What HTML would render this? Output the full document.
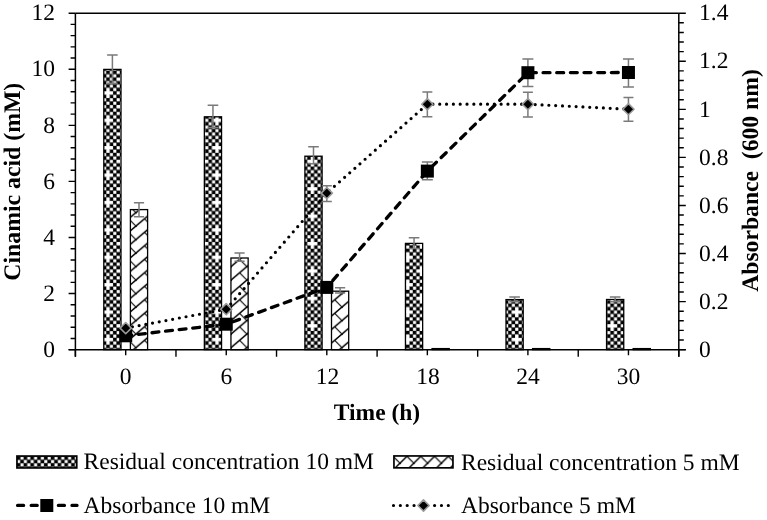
<!DOCTYPE html><html><head><meta charset="utf-8"><style>html,body{margin:0;padding:0;background:#fff;}svg{display:block;will-change:transform;}text{font-family:"Liberation Serif",serif;text-rendering:geometricPrecision;}</style></head><body>
<svg width="767" height="520" viewBox="0 0 767 520">
<defs>
<pattern id="chk" patternUnits="userSpaceOnUse" width="27.250" height="27.400" x="99.484" y="84.388"><rect width="27.250" height="27.400" fill="#000"/><rect x="3.56" y="0.15" width="3.11" height="3.12" fill="#fff"/><rect x="10.37" y="0.15" width="3.11" height="3.12" fill="#fff"/><rect x="17.18" y="0.15" width="3.11" height="3.12" fill="#fff"/><rect x="23.99" y="0.15" width="3.11" height="3.12" fill="#fff"/><rect x="0.15" y="3.57" width="3.11" height="3.12" fill="#fff"/><rect x="6.96" y="3.57" width="3.11" height="3.12" fill="#fff"/><rect x="13.78" y="3.57" width="3.11" height="3.12" fill="#fff"/><rect x="20.59" y="3.57" width="3.11" height="3.12" fill="#fff"/><rect x="3.56" y="7.00" width="3.11" height="3.12" fill="#fff"/><rect x="10.37" y="7.00" width="3.11" height="3.12" fill="#fff"/><rect x="17.18" y="7.00" width="3.11" height="3.12" fill="#fff"/><rect x="23.99" y="7.00" width="3.11" height="3.12" fill="#fff"/><rect x="0.15" y="10.42" width="3.11" height="3.12" fill="#fff"/><rect x="6.96" y="10.42" width="3.11" height="3.12" fill="#fff"/><rect x="13.78" y="10.42" width="3.11" height="3.12" fill="#fff"/><rect x="20.59" y="10.42" width="3.11" height="3.12" fill="#fff"/><rect x="3.56" y="13.85" width="3.11" height="3.12" fill="#fff"/><rect x="10.37" y="13.85" width="3.11" height="3.12" fill="#fff"/><rect x="17.18" y="13.85" width="3.11" height="3.12" fill="#fff"/><rect x="23.99" y="13.85" width="3.11" height="3.12" fill="#fff"/><rect x="0.15" y="17.27" width="3.11" height="3.12" fill="#fff"/><rect x="6.96" y="17.27" width="3.11" height="3.12" fill="#fff"/><rect x="13.78" y="17.27" width="3.11" height="3.12" fill="#fff"/><rect x="20.59" y="17.27" width="3.11" height="3.12" fill="#fff"/><rect x="3.56" y="20.70" width="3.11" height="3.12" fill="#fff"/><rect x="10.37" y="20.70" width="3.11" height="3.12" fill="#fff"/><rect x="17.18" y="20.70" width="3.11" height="3.12" fill="#fff"/><rect x="23.99" y="20.70" width="3.11" height="3.12" fill="#fff"/><rect x="0.15" y="24.12" width="3.11" height="3.12" fill="#fff"/><rect x="6.96" y="24.12" width="3.11" height="3.12" fill="#fff"/><rect x="13.78" y="24.12" width="3.11" height="3.12" fill="#fff"/><rect x="20.59" y="24.12" width="3.11" height="3.12" fill="#fff"/><rect x="3.56" y="7.00" width="9.92" height="3.12" fill="#fff"/><rect x="6.96" y="3.57" width="3.11" height="9.97" fill="#fff"/><rect x="17.18" y="20.70" width="9.92" height="3.12" fill="#fff"/><rect x="20.59" y="17.27" width="3.11" height="9.97" fill="#fff"/></pattern>
<pattern id="chkL" patternUnits="userSpaceOnUse" width="27.200" height="27.200" x="16.900" y="456.400"><rect width="27.200" height="27.200" fill="#000"/><rect x="3.55" y="0.15" width="3.10" height="3.10" fill="#fff"/><rect x="10.35" y="0.15" width="3.10" height="3.10" fill="#fff"/><rect x="17.15" y="0.15" width="3.10" height="3.10" fill="#fff"/><rect x="23.95" y="0.15" width="3.10" height="3.10" fill="#fff"/><rect x="0.15" y="3.55" width="3.10" height="3.10" fill="#fff"/><rect x="6.95" y="3.55" width="3.10" height="3.10" fill="#fff"/><rect x="13.75" y="3.55" width="3.10" height="3.10" fill="#fff"/><rect x="20.55" y="3.55" width="3.10" height="3.10" fill="#fff"/><rect x="3.55" y="6.95" width="3.10" height="3.10" fill="#fff"/><rect x="10.35" y="6.95" width="3.10" height="3.10" fill="#fff"/><rect x="17.15" y="6.95" width="3.10" height="3.10" fill="#fff"/><rect x="23.95" y="6.95" width="3.10" height="3.10" fill="#fff"/><rect x="0.15" y="10.35" width="3.10" height="3.10" fill="#fff"/><rect x="6.95" y="10.35" width="3.10" height="3.10" fill="#fff"/><rect x="13.75" y="10.35" width="3.10" height="3.10" fill="#fff"/><rect x="20.55" y="10.35" width="3.10" height="3.10" fill="#fff"/><rect x="3.55" y="13.75" width="3.10" height="3.10" fill="#fff"/><rect x="10.35" y="13.75" width="3.10" height="3.10" fill="#fff"/><rect x="17.15" y="13.75" width="3.10" height="3.10" fill="#fff"/><rect x="23.95" y="13.75" width="3.10" height="3.10" fill="#fff"/><rect x="0.15" y="17.15" width="3.10" height="3.10" fill="#fff"/><rect x="6.95" y="17.15" width="3.10" height="3.10" fill="#fff"/><rect x="13.75" y="17.15" width="3.10" height="3.10" fill="#fff"/><rect x="20.55" y="17.15" width="3.10" height="3.10" fill="#fff"/><rect x="3.55" y="20.55" width="3.10" height="3.10" fill="#fff"/><rect x="10.35" y="20.55" width="3.10" height="3.10" fill="#fff"/><rect x="17.15" y="20.55" width="3.10" height="3.10" fill="#fff"/><rect x="23.95" y="20.55" width="3.10" height="3.10" fill="#fff"/><rect x="0.15" y="23.95" width="3.10" height="3.10" fill="#fff"/><rect x="6.95" y="23.95" width="3.10" height="3.10" fill="#fff"/><rect x="13.75" y="23.95" width="3.10" height="3.10" fill="#fff"/><rect x="20.55" y="23.95" width="3.10" height="3.10" fill="#fff"/></pattern>
<pattern id="brk" patternUnits="userSpaceOnUse" width="15.85" height="13.5" x="135.900" y="293.600"><rect width="15.85" height="13.5" fill="#fff"/><path d="M-1.585 14.850 L17.435 -1.350" stroke="#000" stroke-width="1.5"/><path d="M8.560 6.210 L16.850 14.500" stroke="#000" stroke-width="1.1"/><path d="M-1 -1 L0.8 0.8" stroke="#000" stroke-width="1.1"/></pattern>
<pattern id="brkL" patternUnits="userSpaceOnUse" width="13.8" height="13.8" x="400.000" y="463.200"><rect width="13.8" height="13.8" fill="#fff"/><path d="M-1.380 15.180 L15.180 -1.380" stroke="#000" stroke-width="1.5"/><path d="M6.900 6.900 L14.800 14.800" stroke="#000" stroke-width="1.1"/><path d="M-1 -1 L0.8 0.8" stroke="#000" stroke-width="1.1"/></pattern>
</defs>
<rect width="767" height="520" fill="#fff"/>
<rect x="103.80" y="69.40" width="17.20" height="280.25" fill="url(#chk)" stroke="#000" stroke-width="1.3"/>
<rect x="130.40" y="209.60" width="17.20" height="140.05" fill="url(#brk)" stroke="#000" stroke-width="1.3"/>
<rect x="204.35" y="116.80" width="17.20" height="232.85" fill="url(#chk)" stroke="#000" stroke-width="1.3"/>
<rect x="230.95" y="258.00" width="17.20" height="91.65" fill="url(#brk)" stroke="#000" stroke-width="1.3"/>
<rect x="304.90" y="156.20" width="17.20" height="193.45" fill="url(#chk)" stroke="#000" stroke-width="1.3"/>
<rect x="331.50" y="291.20" width="17.20" height="58.45" fill="url(#brk)" stroke="#000" stroke-width="1.3"/>
<rect x="405.45" y="243.40" width="17.20" height="106.25" fill="url(#chk)" stroke="#000" stroke-width="1.3"/>
<rect x="432.05" y="348.60" width="17.20" height="1.05" fill="url(#brk)" stroke="#000" stroke-width="1.3"/>
<rect x="506.00" y="299.60" width="17.20" height="50.05" fill="url(#chk)" stroke="#000" stroke-width="1.3"/>
<rect x="532.60" y="348.60" width="17.20" height="1.05" fill="url(#brk)" stroke="#000" stroke-width="1.3"/>
<rect x="606.55" y="299.50" width="17.20" height="50.15" fill="url(#chk)" stroke="#000" stroke-width="1.3"/>
<rect x="633.15" y="348.60" width="17.20" height="1.05" fill="url(#brk)" stroke="#000" stroke-width="1.3"/>
<path d="M112.40 55.00 V83.30 M107.10 55.00 H117.70 M107.10 83.30 H117.70" stroke="#7a7a7a" stroke-width="1.5" fill="none"/>
<path d="M139.00 202.80 V216.70 M133.90 202.80 H144.10 M133.90 216.70 H144.10" stroke="#7a7a7a" stroke-width="1.5" fill="none"/>
<path d="M212.95 105.20 V127.40 M207.65 105.20 H218.25 M207.65 127.40 H218.25" stroke="#7a7a7a" stroke-width="1.5" fill="none"/>
<path d="M239.55 252.90 V261.30 M234.45 252.90 H244.65 M234.45 261.30 H244.65" stroke="#7a7a7a" stroke-width="1.5" fill="none"/>
<path d="M313.50 146.80 V163.80 M308.20 146.80 H318.80 M308.20 163.80 H318.80" stroke="#7a7a7a" stroke-width="1.5" fill="none"/>
<path d="M340.10 287.80 V292.90 M335.00 287.80 H345.20 M335.00 292.90 H345.20" stroke="#7a7a7a" stroke-width="1.5" fill="none"/>
<path d="M414.05 237.80 V248.50 M408.75 237.80 H419.35 M408.75 248.50 H419.35" stroke="#7a7a7a" stroke-width="1.5" fill="none"/>
<path d="M514.60 296.90 V301.70 M509.30 296.90 H519.90 M509.30 301.70 H519.90" stroke="#7a7a7a" stroke-width="1.5" fill="none"/>
<path d="M615.15 296.90 V301.70 M609.85 296.90 H620.45 M609.85 301.70 H620.45" stroke="#7a7a7a" stroke-width="1.5" fill="none"/>
<path d="M75.4 13.2 H678.8 M75.4 13.2 V356.65 M678.8 13.2 V356.65 M68.60000000000001 349.65 H685.8" stroke="#000" stroke-width="1.5" fill="none"/>
<path d="M68.60 349.65 H75.4 M70.60 338.44 H75.4 M70.60 327.22 H75.4 M70.60 316.00 H75.4 M70.60 304.79 H75.4 M68.60 293.57 H75.4 M70.60 282.36 H75.4 M70.60 271.14 H75.4 M70.60 259.93 H75.4 M70.60 248.71 H75.4 M68.60 237.50 H75.4 M70.60 226.28 H75.4 M70.60 215.07 H75.4 M70.60 203.85 H75.4 M70.60 192.64 H75.4 M68.60 181.42 H75.4 M70.60 170.21 H75.4 M70.60 158.99 H75.4 M70.60 147.78 H75.4 M70.60 136.56 H75.4 M68.60 125.35 H75.4 M70.60 114.13 H75.4 M70.60 102.92 H75.4 M70.60 91.70 H75.4 M70.60 80.49 H75.4 M68.60 69.27 H75.4 M70.60 58.06 H75.4 M70.60 46.84 H75.4 M70.60 35.63 H75.4 M70.60 24.41 H75.4 M68.60 13.20 H75.4 M678.8 349.65 H685.8 M678.8 340.04 H683.8 M678.8 330.42 H683.8 M678.8 320.81 H683.8 M678.8 311.20 H683.8 M678.8 301.59 H685.8 M678.8 291.97 H683.8 M678.8 282.36 H683.8 M678.8 272.75 H683.8 M678.8 263.13 H683.8 M678.8 253.52 H685.8 M678.8 243.91 H683.8 M678.8 234.30 H683.8 M678.8 224.68 H683.8 M678.8 215.07 H683.8 M678.8 205.46 H685.8 M678.8 195.84 H683.8 M678.8 186.23 H683.8 M678.8 176.62 H683.8 M678.8 167.01 H683.8 M678.8 157.39 H685.8 M678.8 147.78 H683.8 M678.8 138.17 H683.8 M678.8 128.55 H683.8 M678.8 118.94 H683.8 M678.8 109.33 H685.8 M678.8 99.72 H683.8 M678.8 90.10 H683.8 M678.8 80.49 H683.8 M678.8 70.88 H683.8 M678.8 61.26 H685.8 M678.8 51.65 H683.8 M678.8 42.04 H683.8 M678.8 32.43 H683.8 M678.8 22.81 H683.8 M678.8 13.20 H685.8 M75.40 349.65 V356.65 M175.97 349.65 V356.65 M276.53 349.65 V356.65 M377.10 349.65 V356.65 M477.67 349.65 V356.65 M578.23 349.65 V356.65 M678.80 349.65 V356.65 M125.70 349.65 V355.15 M226.25 349.65 V355.15 M326.80 349.65 V355.15 M427.35 349.65 V355.15 M527.90 349.65 V355.15 M628.45 349.65 V355.15" stroke="#000" stroke-width="1.4" fill="none"/>
<text x="55" y="356.85" font-size="23.5" text-anchor="end">0</text>
<text x="55" y="300.77" font-size="23.5" text-anchor="end">2</text>
<text x="55" y="244.70" font-size="23.5" text-anchor="end">4</text>
<text x="55" y="188.62" font-size="23.5" text-anchor="end">6</text>
<text x="55" y="132.55" font-size="23.5" text-anchor="end">8</text>
<text x="55" y="76.47" font-size="23.5" text-anchor="end">10</text>
<text x="55" y="20.40" font-size="23.5" text-anchor="end">12</text>
<text x="699" y="356.85" font-size="23.5">0</text>
<text x="699" y="308.79" font-size="23.5">0.2</text>
<text x="699" y="260.72" font-size="23.5">0.4</text>
<text x="699" y="212.66" font-size="23.5">0.6</text>
<text x="699" y="164.59" font-size="23.5">0.8</text>
<text x="699" y="116.53" font-size="23.5">1</text>
<text x="699" y="68.46" font-size="23.5">1.2</text>
<text x="699" y="20.40" font-size="23.5">1.4</text>
<text x="125.70" y="384.3" font-size="23.5" text-anchor="middle">0</text>
<text x="226.25" y="384.3" font-size="23.5" text-anchor="middle">6</text>
<text x="327.60" y="384.3" font-size="23.5" text-anchor="middle">12</text>
<text x="427.95" y="384.3" font-size="23.5" text-anchor="middle">18</text>
<text x="527.90" y="384.3" font-size="23.5" text-anchor="middle">24</text>
<text x="628.45" y="384.3" font-size="23.5" text-anchor="middle">30</text>
<text x="377" y="419.6" font-size="23.5" font-weight="bold" text-anchor="middle">Time (h)</text>
<text transform="translate(19.7 181.7) rotate(-90)" font-size="23.75" font-weight="bold" text-anchor="middle">Cinamic acid (mM)</text>
<text transform="translate(758.4 180.5) rotate(-90)" font-size="23.65" font-weight="bold" text-anchor="middle" xml:space="preserve">Absorbance  (600 nm)</text>
<polyline points="125.70,335.8 226.25,324.2 326.80,287.4 427.35,171.1 527.90,72.7 628.45,72.5" fill="none" stroke="#000" stroke-width="3.3" stroke-dasharray="6.9 6.75" stroke-dashoffset="0.8" stroke-linecap="round" stroke-linejoin="round"/>
<polyline points="125.70,328.1 226.25,309.2 326.80,193.1 427.35,104.2 527.90,104.2 628.45,109.2" fill="none" stroke="#000" stroke-width="3.2" stroke-dasharray="0 6.822" stroke-linecap="round"/>
<path d="M427.35 162.00 V179.80 M421.85 162.00 H432.85 M421.85 179.80 H432.85" stroke="#7a7a7a" stroke-width="1.5" fill="none"/>
<path d="M527.90 59.10 V86.60 M522.40 59.10 H533.40 M522.40 86.60 H533.40" stroke="#7a7a7a" stroke-width="1.5" fill="none"/>
<path d="M628.45 58.90 V87.00 M622.95 58.90 H633.95 M622.95 87.00 H633.95" stroke="#7a7a7a" stroke-width="1.5" fill="none"/>
<rect x="119.20" y="329.30" width="13" height="13" fill="#000"/>
<rect x="219.75" y="317.70" width="13" height="13" fill="#000"/>
<rect x="320.30" y="280.90" width="13" height="13" fill="#000"/>
<rect x="420.85" y="164.60" width="13" height="13" fill="#000"/>
<rect x="521.40" y="66.20" width="13" height="13" fill="#000"/>
<rect x="621.95" y="66.00" width="13" height="13" fill="#000"/>
<path d="M326.80 185.70 V201.40 M321.80 185.70 H331.80 M321.80 201.40 H331.80" stroke="#7a7a7a" stroke-width="1.5" fill="none"/>
<path d="M427.35 92.10 V116.70 M422.35 92.10 H432.35 M422.35 116.70 H432.35" stroke="#7a7a7a" stroke-width="1.5" fill="none"/>
<path d="M527.90 92.20 V117.00 M522.90 92.20 H532.90 M522.90 117.00 H532.90" stroke="#7a7a7a" stroke-width="1.5" fill="none"/>
<path d="M628.45 97.50 V121.20 M623.45 97.50 H633.45 M623.45 121.20 H633.45" stroke="#7a7a7a" stroke-width="1.5" fill="none"/>
<path d="M125.70 322.50 L131.30 328.10 L125.70 333.70 L120.10 328.10 Z" fill="#000" stroke="#9a9a9a" stroke-width="1.6" stroke-linejoin="round"/>
<path d="M226.25 303.60 L231.85 309.20 L226.25 314.80 L220.65 309.20 Z" fill="#000" stroke="#9a9a9a" stroke-width="1.6" stroke-linejoin="round"/>
<path d="M326.80 187.50 L332.40 193.10 L326.80 198.70 L321.20 193.10 Z" fill="#000" stroke="#9a9a9a" stroke-width="1.6" stroke-linejoin="round"/>
<path d="M427.35 98.60 L432.95 104.20 L427.35 109.80 L421.75 104.20 Z" fill="#000" stroke="#9a9a9a" stroke-width="1.6" stroke-linejoin="round"/>
<path d="M527.90 98.60 L533.50 104.20 L527.90 109.80 L522.30 104.20 Z" fill="#000" stroke="#9a9a9a" stroke-width="1.6" stroke-linejoin="round"/>
<path d="M628.45 103.60 L634.05 109.20 L628.45 114.80 L622.85 109.20 Z" fill="#000" stroke="#9a9a9a" stroke-width="1.6" stroke-linejoin="round"/>
<rect x="16.95" y="456.05" width="59.8" height="11.9" fill="url(#chkL)" stroke="#000" stroke-width="1.7"/>
<text x="83.6" y="469.4" font-size="23.5">Residual concentration 10 mM</text>
<rect x="393.95" y="455.95" width="59.0" height="11.9" fill="url(#brkL)" stroke="#000" stroke-width="1.7"/>
<text x="461" y="469.6" font-size="23.5">Residual concentration 5 mM</text>
<path d="M16 505.4 H77" stroke="#000" stroke-width="3.3" stroke-dasharray="6.0 7.6" stroke-dashoffset="12.0" stroke-linecap="round" fill="none"/>
<rect x="40.3" y="499" width="13" height="13" fill="#000"/>
<text x="83.6" y="512.8" font-size="23.5">Absorbance 10 mM</text>
<path d="M393.5 505.5 H450" stroke="#000" stroke-width="3.2" stroke-dasharray="0 6.85" stroke-linecap="round" fill="none"/>
<path d="M423.50 499.90 L429.10 505.50 L423.50 511.10 L417.90 505.50 Z" fill="#000" stroke="#9a9a9a" stroke-width="1.6" stroke-linejoin="round"/>
<text x="461" y="512.9" font-size="23.5">Absorbance 5 mM</text>
</svg></body></html>
